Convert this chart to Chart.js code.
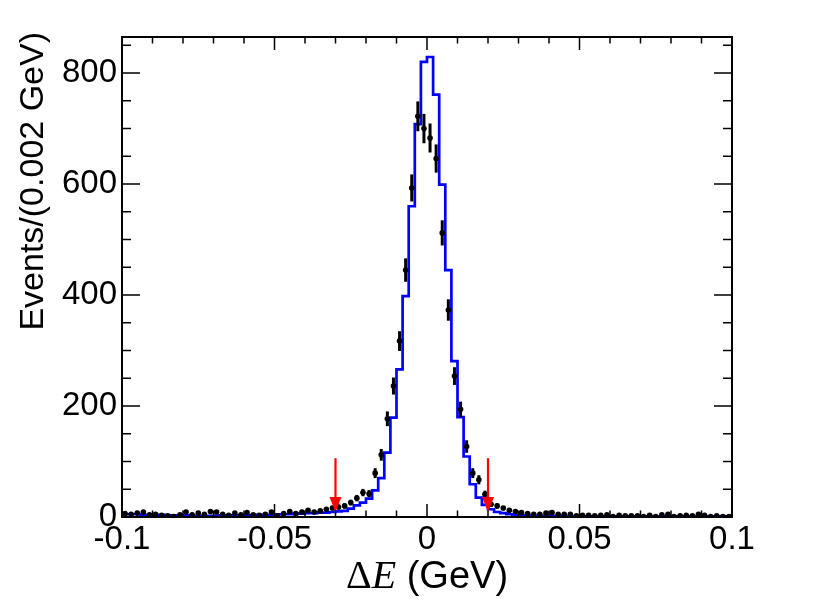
<!DOCTYPE html>
<html>
<head>
<meta charset="utf-8">
<script src="https://cdn.jsdelivr.net/npm/chart.js@4.4.1/dist/chart.umd.min.js"></script>
<style>
  html, body { margin: 0; padding: 0; background: #ffffff; }
  canvas { display: block; }
</style>
</head>
<body>
<canvas id="deltaE" width="814" height="610"></canvas>
<script>
// Binning of Delta E (GeV)
const binLow = -0.1;
const binWidth = 0.002;

// Data, events per bin (black points)
const dataCounts = [
    6, 5, 7, 9, 4, 5, 3, 2, 1, 4,
    9, 4, 7, 5, 10, 9, 5, 3, 7, 4,
    8, 4, 3, 5, 9, 2, 6, 10, 6, 9,
    12, 9, 11, 14, 16, 18, 20, 26, 34, 44,
    42, 79, 112, 177, 236, 317, 445, 593, 722, 700,
    683, 646, 512, 373, 254, 194, 127, 79, 67, 41,
    23, 20, 16, 12, 10, 8, 6, 5, 5, 7,
    8, 5, 5, 5, 2, 3, 3, 2, 3, 4,
    1, 3, 2, 2, 2, 1, 3, 1, 4, 5,
    1, 2, 3, 2, 5, 3, 1, 2, 1, 1
];

// Signal MC, events per bin (blue histogram)
const mcCounts = [
    5, 5, 5, 4, 4, 4, 4, 3, 3, 3,
    3, 2, 2, 2, 2, 2, 3, 3, 3, 3,
    3, 3, 4, 4, 4, 5, 5, 5, 6, 6,
    7, 7, 8, 8, 9, 10, 11, 15, 21, 26,
    33, 48, 70, 116, 179, 266, 398, 560, 708, 820,
    829, 761, 599, 445, 281, 180, 109, 59, 35, 22,
    14, 9, 7, 5, 4, 3, 3, 2, 2, 2,
    2, 2, 1, 1, 1, 1, 1, 1, 1, 1,
    1, 1, 1, 1, 1, 1, 1, 1, 1, 1,
    1, 1, 1, 1, 1, 1, 1, 1, 1, 1
];

// Axis ticks
const xTickValues = [-0.1, -0.05, 0, 0.05, 0.1];
const xTickLabels = ["-0.1", "-0.05", "0", "0.05", "0.1"];
const yTickValues = [0, 200, 400, 600, 800];
const yTickLabels = ["0", "200", "400", "600", "800"];

// Selection cuts (red arrows)
const cutValues = [-0.03, 0.02];
const arrowFrom = 106;
const arrowTo = 9;

const yMax = 865;
const sans = "'Liberation Sans', Arial, sans-serif";

// Points at bin centres, steps at bin edges
const dataPoints = dataCounts.map((n, i) => ({ x: binLow + binWidth * (i + 0.5), y: n }));
const mcSteps = mcCounts.map((n, i) => ({ x: binLow + binWidth * i, y: n }));
mcSteps.push({ x: binLow + binWidth * mcCounts.length, y: mcCounts[mcCounts.length - 1] });

// Error bars, cut arrows, frame with inward ticks, axis titles
const rootStyle = {
    id: "rootStyle",
    afterDatasetsDraw(chart) {
        const ctx = chart.ctx;
        const xs = chart.scales.x;
        const ys = chart.scales.y;
        const area = chart.chartArea;

        ctx.save();
        ctx.beginPath();
        ctx.rect(area.left, area.top, area.right - area.left, area.bottom - area.top);
        ctx.clip();

        // error bars sqrt(N)
        ctx.strokeStyle = "#000000";
        ctx.lineWidth = 3;
        dataPoints.forEach(p => {
            if (p.y <= 0) return;
            const e = Math.sqrt(p.y);
            const px = xs.getPixelForValue(p.x);
            ctx.beginPath();
            ctx.moveTo(px, ys.getPixelForValue(p.y - e));
            ctx.lineTo(px, ys.getPixelForValue(p.y + e));
            ctx.stroke();
        });

        // red arrows
        ctx.strokeStyle = "#ff0000";
        ctx.fillStyle = "#ff0000";
        ctx.lineWidth = 2.2;
        cutValues.forEach(c => {
            const px = xs.getPixelForValue(c);
            const top = ys.getPixelForValue(arrowFrom);
            const tip = ys.getPixelForValue(arrowTo);
            ctx.beginPath();
            ctx.moveTo(px, top);
            ctx.lineTo(px, tip - 10);
            ctx.stroke();
            ctx.beginPath();
            ctx.moveTo(px - 6, tip - 15);
            ctx.lineTo(px + 6, tip - 15);
            ctx.lineTo(px, tip);
            ctx.closePath();
            ctx.fill();
        });
        ctx.restore();
    },
    afterDraw(chart) {
        const ctx = chart.ctx;
        const xs = chart.scales.x;
        const ys = chart.scales.y;
        const area = chart.chartArea;

        ctx.save();
        ctx.strokeStyle = "#000000";
        ctx.lineWidth = 1.5;

        // x ticks, bottom and top
        for (let k = -10; k <= 10; k++) {
            const px = xs.getPixelForValue(k * 0.01);
            const len = (k % 5 === 0) ? 13 : 6.5;
            ctx.beginPath();
            ctx.moveTo(px, area.bottom);
            ctx.lineTo(px, area.bottom - len);
            ctx.moveTo(px, area.top);
            ctx.lineTo(px, area.top + len);
            ctx.stroke();
        }

        // y ticks, left and right
        for (let v = 0; v <= yMax; v += 50) {
            const py = ys.getPixelForValue(v);
            const len = (v % 200 === 0) ? 18 : 9;
            ctx.beginPath();
            ctx.moveTo(area.left, py);
            ctx.lineTo(area.left + len, py);
            ctx.moveTo(area.right, py);
            ctx.lineTo(area.right - len, py);
            ctx.stroke();
        }

        // frame
        ctx.lineWidth = 2;
        ctx.strokeRect(area.left, area.top, area.right - area.left, area.bottom - area.top);

        // x title: Delta E (GeV)
        ctx.fillStyle = "#000000";
        ctx.textBaseline = "alphabetic";
        ctx.textAlign = "left";
        const parts = [
            { text: "\u0394", font: "40px 'Liberation Serif', serif" },
            { text: "E", font: "italic 40px 'Liberation Serif', serif" },
            { text: " (GeV)", font: "38px " + sans }
        ];
        let total = 0;
        parts.forEach(p => { ctx.font = p.font; p.w = ctx.measureText(p.text).width; total += p.w; });
        let tx = (area.left + area.right) / 2 - total / 2;
        parts.forEach(p => {
            ctx.font = p.font;
            ctx.fillText(p.text, tx, 588);
            tx += p.w;
        });

        // y title
        ctx.translate(43, 32);
        ctx.rotate(-Math.PI / 2);
        ctx.font = "34px " + sans;
        ctx.textAlign = "right";
        ctx.fillText("Events/(0.002 GeV)", 0, 0);
        ctx.restore();
    }
};

const ctx = document.getElementById("deltaE").getContext("2d");

const deltaEChart = new Chart(ctx, {
    data: {
        datasets: [
            {
                type: "scatter",
                label: "Data",
                data: dataPoints,
                pointRadius: 2.8,
                pointBackgroundColor: "#000000",
                pointBorderWidth: 0,
                order: 1
            },
            {
                type: "line",
                label: "Signal MC",
                data: mcSteps,
                stepped: "before",
                borderColor: "#0000ff",
                borderWidth: 2.7,
                pointRadius: 0,
                fill: false,
                order: 2
            }
        ]
    },
    options: {
        responsive: false,
        animation: false,
        devicePixelRatio: 1,
        layout: {
            padding: { left: 0, right: 82, top: 37, bottom: 0 }
        },
        plugins: {
            legend: { display: false },
            tooltip: { enabled: false }
        },
        scales: {
            x: {
                type: "linear",
                min: -0.1,
                max: 0.1,
                grid: { display: false, drawTicks: false },
                border: { display: false },
                afterBuildTicks(scale) {
                    scale.ticks = xTickValues.map(v => ({ value: v }));
                },
                afterFit(scale) {
                    scale.height = 93;
                },
                ticks: {
                    color: "#000000",
                    font: { family: sans, size: 33 },
                    padding: 3,
                    maxRotation: 0,
                    callback: (value, index) => xTickLabels[index]
                }
            },
            y: {
                type: "linear",
                min: 0,
                max: yMax,
                grid: { display: false, drawTicks: false },
                border: { display: false },
                afterBuildTicks(scale) {
                    scale.ticks = yTickValues.map(v => ({ value: v }));
                },
                afterFit(scale) {
                    scale.width = 122;
                },
                ticks: {
                    color: "#000000",
                    font: { family: sans, size: 33 },
                    padding: 5,
                    callback: (value, index) => yTickLabels[index]
                }
            }
        }
    },
    plugins: [rootStyle]
});
</script>
</body>
</html>
